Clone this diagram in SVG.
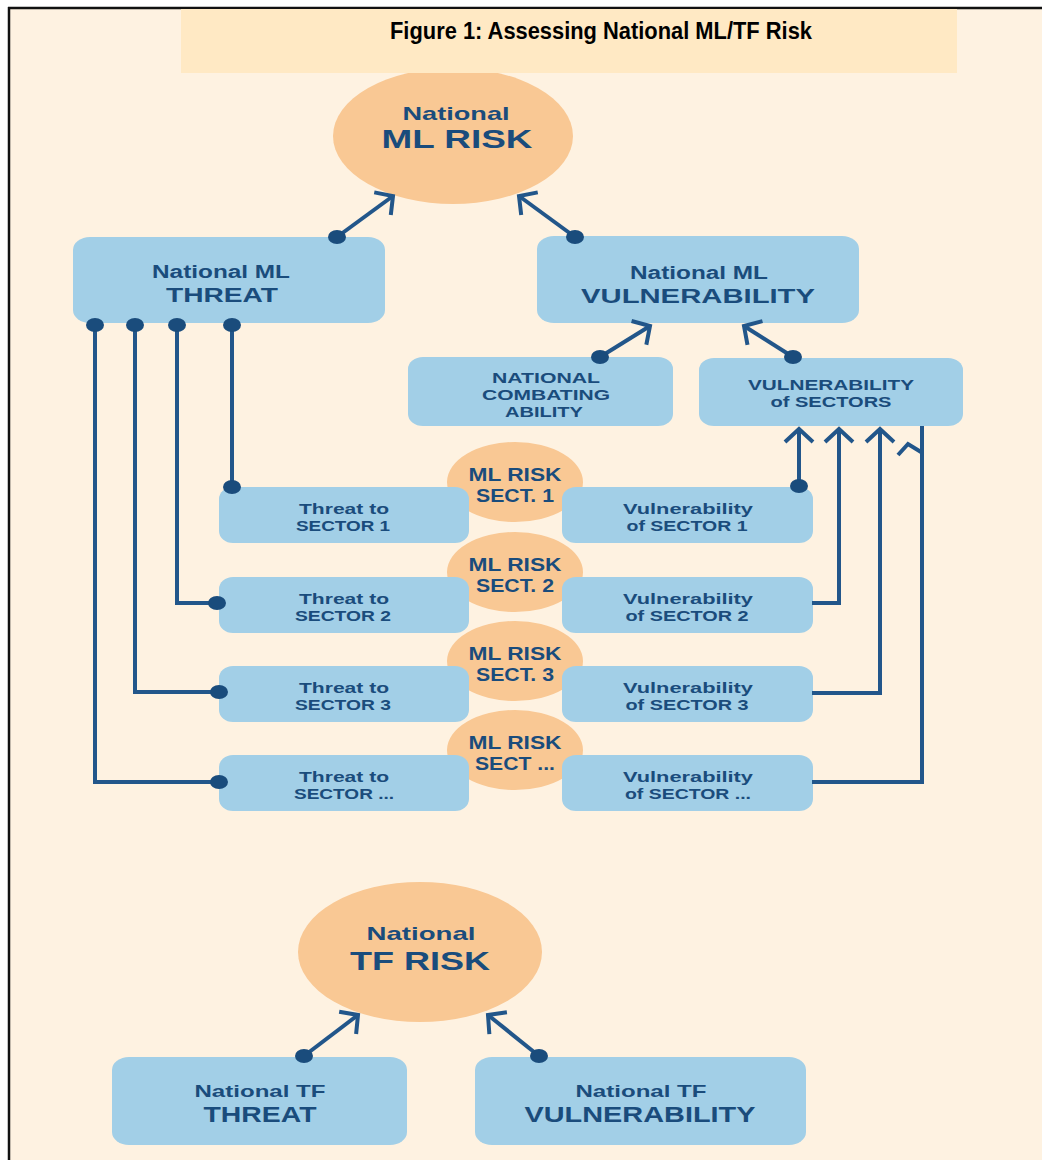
<svg xmlns="http://www.w3.org/2000/svg" width="1042" height="1160" viewBox="0 0 1042 1160">
<defs>
<marker id="arr" markerUnits="userSpaceOnUse" markerWidth="40" markerHeight="40" refX="0" refY="0" orient="auto" overflow="visible" viewBox="-20 -20 40 40">
<path d="M -13 -14 L 0 0 L -13 14" fill="none" stroke="#22568A" stroke-width="4"/>
</marker>
</defs>
<style>
.bg{fill:#FEF2E1}
.box{fill:#A2CFE7}
.risk{fill:#F9C894}
.t{font-family:"Liberation Sans",Arial,sans-serif;font-weight:700;fill:#1A4C7C;text-anchor:middle}
.ttl{font-family:"Liberation Sans",Arial,sans-serif;font-weight:700;fill:#000;text-anchor:middle}
.ln{fill:none;stroke:#22568A;stroke-width:4}
.dot{fill:#1A4C7C}
</style>
<rect x="0" y="0" width="1042" height="1160" fill="#FFFFFF"/>
<rect class="bg" x="9" y="8" width="1033" height="1152"/>
<line x1="8" y1="8" x2="1042" y2="8" stroke="#111" stroke-width="2.5"/>
<line x1="9" y1="7" x2="9" y2="1160" stroke="#111" stroke-width="2.5"/>

<g id="ml-risk">
<ellipse class="risk" cx="453" cy="136" rx="120" ry="68"/>
<text class="t" x="456" y="120" font-size="19" textLength="107" lengthAdjust="spacingAndGlyphs">National</text>
<text class="t" x="457" y="148" font-size="26" textLength="151" lengthAdjust="spacingAndGlyphs">ML RISK</text>
</g>

<g id="title">
<rect x="181" y="9" width="776" height="64" fill="#FFE9C4"/>
<text class="ttl" x="601" y="39" font-size="23" textLength="422" lengthAdjust="spacingAndGlyphs">Figure 1: Assessing National ML/TF Risk</text>
</g>

<g id="ml-threat">
<rect class="box" x="73" y="237" width="312" height="86" rx="17" ry="13"/>
<text class="t" x="221" y="278" font-size="18" textLength="138" lengthAdjust="spacingAndGlyphs">National ML</text>
<text class="t" x="222" y="302" font-size="21" textLength="112" lengthAdjust="spacingAndGlyphs">THREAT</text>
</g>

<g id="ml-vulnerability">
<rect class="box" x="537" y="236" width="322" height="87" rx="17" ry="13"/>
<text class="t" x="699" y="279" font-size="18" textLength="138" lengthAdjust="spacingAndGlyphs">National ML</text>
<text class="t" x="698" y="303" font-size="21" textLength="234" lengthAdjust="spacingAndGlyphs">VULNERABILITY</text>
</g>

<g id="combating">
<rect class="box" x="408" y="357" width="265" height="69" rx="15" ry="12"/>
<text class="t" x="546" y="383" font-size="15" textLength="108" lengthAdjust="spacingAndGlyphs">NATIONAL</text>
<text class="t" x="546" y="400" font-size="15" textLength="128" lengthAdjust="spacingAndGlyphs">COMBATING</text>
<text class="t" x="544" y="417" font-size="15" textLength="78" lengthAdjust="spacingAndGlyphs">ABILITY</text>
</g>

<g id="vuln-sectors">
<rect class="box" x="699" y="358" width="264" height="68" rx="15" ry="12"/>
<text class="t" x="831" y="390" font-size="15" textLength="166" lengthAdjust="spacingAndGlyphs">VULNERABILITY</text>
<text class="t" x="831" y="407" font-size="15" textLength="121" lengthAdjust="spacingAndGlyphs">of SECTORS</text>
</g>

<g id="risk-s1">
<ellipse class="risk" cx="515" cy="482" rx="68" ry="40"/>
<text class="t" x="515" y="481" font-size="18.5" textLength="93" lengthAdjust="spacingAndGlyphs">ML RISK</text>
<text class="t" x="515" y="502" font-size="18.5" textLength="78" lengthAdjust="spacingAndGlyphs">SECT. 1</text>
</g>
<g id="risk-s2">
<ellipse class="risk" cx="515" cy="572" rx="68" ry="40"/>
<text class="t" x="515" y="571" font-size="18.5" textLength="93" lengthAdjust="spacingAndGlyphs">ML RISK</text>
<text class="t" x="515" y="592" font-size="18.5" textLength="78" lengthAdjust="spacingAndGlyphs">SECT. 2</text>
</g>
<g id="risk-s3">
<ellipse class="risk" cx="515" cy="661" rx="68" ry="40"/>
<text class="t" x="515" y="660" font-size="18.5" textLength="93" lengthAdjust="spacingAndGlyphs">ML RISK</text>
<text class="t" x="515" y="681" font-size="18.5" textLength="78" lengthAdjust="spacingAndGlyphs">SECT. 3</text>
</g>
<g id="risk-s4">
<ellipse class="risk" cx="515" cy="750" rx="68" ry="40"/>
<text class="t" x="515" y="749" font-size="18.5" textLength="93" lengthAdjust="spacingAndGlyphs">ML RISK</text>
<text class="t" x="515" y="770" font-size="18.5" textLength="80" lengthAdjust="spacingAndGlyphs">SECT ...</text>
</g>

<g id="threat-s1">
<rect class="box" x="219" y="487" width="250" height="56" rx="14" ry="12"/>
<text class="t" x="344" y="514" font-size="15" textLength="90" lengthAdjust="spacingAndGlyphs">Threat to</text>
<text class="t" x="343" y="531" font-size="15" textLength="94" lengthAdjust="spacingAndGlyphs">SECTOR 1</text>
</g>
<g id="threat-s2">
<rect class="box" x="219" y="577" width="250" height="56" rx="14" ry="12"/>
<text class="t" x="344" y="604" font-size="15" textLength="90" lengthAdjust="spacingAndGlyphs">Threat to</text>
<text class="t" x="343" y="621" font-size="15" textLength="96" lengthAdjust="spacingAndGlyphs">SECTOR 2</text>
</g>
<g id="threat-s3">
<rect class="box" x="219" y="666" width="250" height="56" rx="14" ry="12"/>
<text class="t" x="344" y="693" font-size="15" textLength="90" lengthAdjust="spacingAndGlyphs">Threat to</text>
<text class="t" x="343" y="710" font-size="15" textLength="96" lengthAdjust="spacingAndGlyphs">SECTOR 3</text>
</g>
<g id="threat-s4">
<rect class="box" x="219" y="755" width="250" height="56" rx="14" ry="12"/>
<text class="t" x="344" y="782" font-size="15" textLength="90" lengthAdjust="spacingAndGlyphs">Threat to</text>
<text class="t" x="344" y="799" font-size="15" textLength="100" lengthAdjust="spacingAndGlyphs">SECTOR ...</text>
</g>

<g id="vuln-s1">
<rect class="box" x="562" y="487" width="251" height="56" rx="14" ry="12"/>
<text class="t" x="688" y="514" font-size="15" textLength="130" lengthAdjust="spacingAndGlyphs">Vulnerability</text>
<text class="t" x="687" y="531" font-size="15" textLength="121" lengthAdjust="spacingAndGlyphs">of SECTOR 1</text>
</g>
<g id="vuln-s2">
<rect class="box" x="562" y="577" width="251" height="56" rx="14" ry="12"/>
<text class="t" x="688" y="604" font-size="15" textLength="130" lengthAdjust="spacingAndGlyphs">Vulnerability</text>
<text class="t" x="687" y="621" font-size="15" textLength="123" lengthAdjust="spacingAndGlyphs">of SECTOR 2</text>
</g>
<g id="vuln-s3">
<rect class="box" x="562" y="666" width="251" height="56" rx="14" ry="12"/>
<text class="t" x="688" y="693" font-size="15" textLength="130" lengthAdjust="spacingAndGlyphs">Vulnerability</text>
<text class="t" x="687" y="710" font-size="15" textLength="123" lengthAdjust="spacingAndGlyphs">of SECTOR 3</text>
</g>
<g id="vuln-s4">
<rect class="box" x="562" y="755" width="251" height="56" rx="14" ry="12"/>
<text class="t" x="688" y="782" font-size="15" textLength="130" lengthAdjust="spacingAndGlyphs">Vulnerability</text>
<text class="t" x="688" y="799" font-size="15" textLength="126" lengthAdjust="spacingAndGlyphs">of SECTOR ...</text>
</g>

<g id="tf-risk">
<ellipse class="risk" cx="420" cy="952" rx="122" ry="70"/>
<text class="t" x="421" y="940" font-size="19" textLength="109" lengthAdjust="spacingAndGlyphs">National</text>
<text class="t" x="420" y="970" font-size="26" textLength="140" lengthAdjust="spacingAndGlyphs">TF RISK</text>
</g>

<g id="tf-threat">
<rect class="box" x="112" y="1057" width="295" height="88" rx="17" ry="13"/>
<text class="t" x="260" y="1097" font-size="17" textLength="131" lengthAdjust="spacingAndGlyphs">National TF</text>
<text class="t" x="260" y="1122" font-size="22" textLength="113" lengthAdjust="spacingAndGlyphs">THREAT</text>
</g>

<g id="tf-vulnerability">
<rect class="box" x="475" y="1057" width="331" height="88" rx="17" ry="13"/>
<text class="t" x="641" y="1097" font-size="17" textLength="131" lengthAdjust="spacingAndGlyphs">National TF</text>
<text class="t" x="640" y="1122" font-size="22" textLength="231" lengthAdjust="spacingAndGlyphs">VULNERABILITY</text>
</g>

<g id="connectors">
<line class="ln" x1="337" y1="237" x2="393" y2="196" marker-end="url(#arr)"/>
<ellipse class="dot" cx="337" cy="237" rx="9" ry="7"/>
<line class="ln" x1="575" y1="237" x2="519" y2="196" marker-end="url(#arr)"/>
<ellipse class="dot" cx="575" cy="237" rx="9" ry="7"/>
<line class="ln" x1="600" y1="357" x2="650" y2="326" marker-end="url(#arr)"/>
<ellipse class="dot" cx="600" cy="357" rx="9" ry="7"/>
<line class="ln" x1="793" y1="357" x2="744" y2="326" marker-end="url(#arr)"/>
<ellipse class="dot" cx="793" cy="357" rx="9" ry="7"/>

<polyline class="ln" points="232,325 232,487"/>
<ellipse class="dot" cx="232" cy="325" rx="9" ry="7"/>
<ellipse class="dot" cx="232" cy="487" rx="9" ry="7"/>
<polyline class="ln" points="177,325 177,603 217,603"/>
<ellipse class="dot" cx="177" cy="325" rx="9" ry="7"/>
<ellipse class="dot" cx="217" cy="603" rx="9" ry="7"/>
<polyline class="ln" points="135,325 135,692 219,692"/>
<ellipse class="dot" cx="135" cy="325" rx="9" ry="7"/>
<ellipse class="dot" cx="219" cy="692" rx="9" ry="7"/>
<polyline class="ln" points="95,325 95,782 219,782"/>
<ellipse class="dot" cx="95" cy="325" rx="9" ry="7"/>
<ellipse class="dot" cx="219" cy="782" rx="9" ry="7"/>

<polyline class="ln" points="799,486 799,429" marker-end="url(#arr)"/>
<ellipse class="dot" cx="799" cy="486" rx="9" ry="7"/>
<polyline class="ln" points="812,603 839,603 839,429" marker-end="url(#arr)"/>
<polyline class="ln" points="812,693 880,693 880,429" marker-end="url(#arr)"/>
<polyline class="ln" points="812,782 922,782 922,426"/>
<polyline class="ln" points="898,455 908,444 921,452"/>

<line class="ln" x1="304" y1="1056" x2="358" y2="1015" marker-end="url(#arr)"/>
<ellipse class="dot" cx="304" cy="1056" rx="9" ry="7"/>
<line class="ln" x1="539" y1="1056" x2="488" y2="1015" marker-end="url(#arr)"/>
<ellipse class="dot" cx="539" cy="1056" rx="9" ry="7"/>
</g>
</svg>
